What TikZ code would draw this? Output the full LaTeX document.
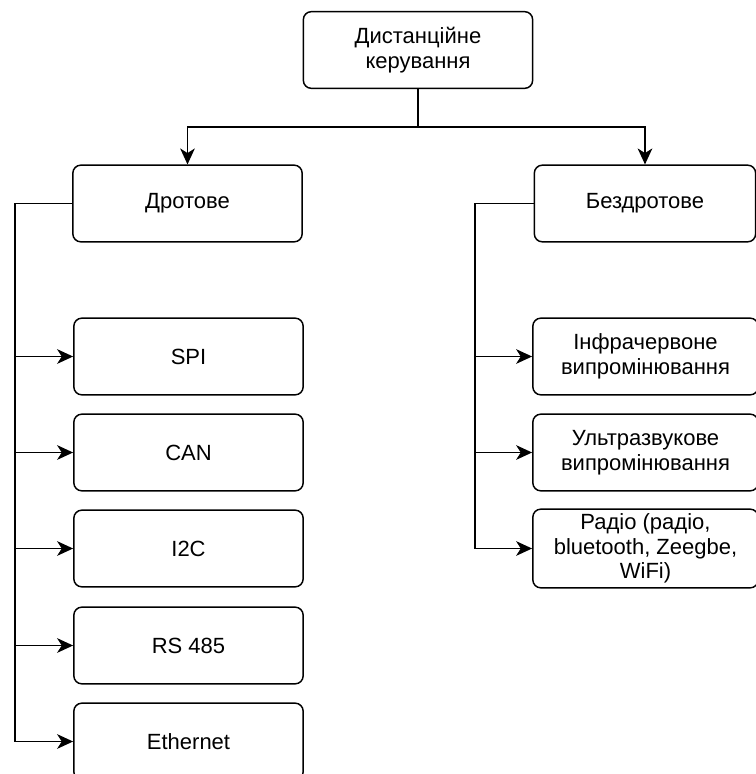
\documentclass[tikz,border=0pt]{standalone}
\usepackage{fontspec}
\setmainfont{Liberation Sans}
\usepackage{tikz}
\usetikzlibrary{arrows.meta, positioning}

\begin{document}
\begin{tikzpicture}[x=0.75pt, y=-0.75pt,
  box/.style={draw, line width=1.1pt, rounded corners=6pt, align=center,
    minimum width=172pt, minimum height=57.5pt, font=\fontsize{16.5}{18.5}\selectfont},
  link/.style={line width=1.1pt},
  arr/.style={line width=1.1pt, -{Stealth[length=12pt, width=11pt, inset=3.5pt]}}]
 \useasboundingbox (0,0) rectangle (756,774);
 % top
 \node[box] (top) at (418,50){Дистанційне\\керування};
 \node[box] (dro) at (187.5,203.5){Дротове};
 \node[box, minimum width=166pt] (bez) at (645,203.5){Бездротове};
 \coordinate (split) at (418,127);
 \draw[link] (top.south) -- (split);
 \draw[arr] (split) -| (dro.north);
 \draw[arr] (split) -| (bez.north);
 % wired
 \node[box] (spi) at (188.5,356.5){SPI};
 \node[box] (can) at (188.5,452.5){CAN};
 \node[box] (itc) at (188.5,548.5){I2C};
 \node[box] (rs) at (188.5,645.5){RS 485};
 \node[box] (eth) at (188.5,741.5){Ethernet};
 \coordinate (ltrunk) at (15,203.5);
 \draw[arr] (dro.west) -- (ltrunk) |- (eth.west);
 \foreach \n in {spi, can, itc, rs}
  \draw[arr] (ltrunk |- \n.west) -- (\n.west);
 % wireless
 \node[box, minimum width=169pt] (ir) at (645.5,356.5){Інфрачервоне\\випромінювання};
 \node[box, minimum width=169pt] (us) at (645.5,452.5){Ультразвукове\\випромінювання};
 \node[box, minimum width=169pt] (rad) at (645.5,548.5){Радіо (радіо,\\bluetooth, Zeegbe,\\WiFi)};
 \coordinate (rtrunk) at (475,203.5);
 \draw[arr] (bez.west) -- (rtrunk) |- (rad.west);
 \foreach \n in {ir, us}
  \draw[arr] (rtrunk |- \n.west) -- (\n.west);
\end{tikzpicture}
\end{document}
